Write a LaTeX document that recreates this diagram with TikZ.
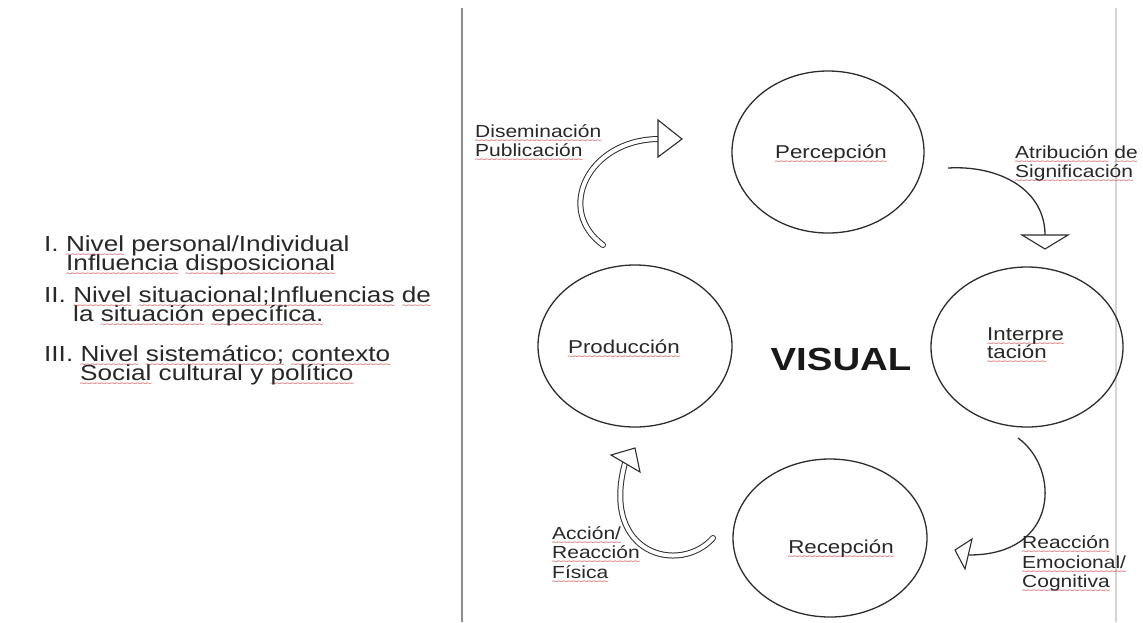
\documentclass[tikz,border=0pt]{standalone}
\usepackage{fontspec}
\setmainfont{Liberation Sans}[FakeStretch=1.2]
\newfontfamily\wavefont{DejaVu Sans}
\usetikzlibrary{shapes.geometric}
\definecolor{wred}{RGB}{215,110,110}
\definecolor{txt}{RGB}{40,40,40}
\definecolor{cline}{RGB}{45,45,45}
\definecolor{sepdark}{RGB}{140,140,140}
\definecolor{seplight}{RGB}{212,212,212}
\newcommand\sq[1]{\leavevmode\setbox0\hbox{#1}\rlap{\lower6.5pt\hbox to \wd0{\xleaders\hbox to 5pt{\hss\textcolor{wred}{\wavefont\fontsize{9}{9}\selectfont ∼}\hss}\hfill}}\box0\relax}
\begin{document}
\begin{tikzpicture}[x=1pt,y=-1pt,
  bubble/.style={shape=ellipse, draw=cline, line width=1.3pt, inner sep=0pt},
  biglab/.style={inner sep=0pt, text=txt, font=\fontsize{18.6}{22}\selectfont},
  smalllab/.style={inner sep=0pt, text=txt, anchor=base west, font=\fontsize{17.5}{19.5}\selectfont},
  listlab/.style={inner sep=0pt, text=txt, anchor=base west, font=\fontsize{21.8}{20}\selectfont},
  hollow/.style={draw=cline, line width=1pt, double=white, double distance=4pt, line cap=round},
  thinarrow/.style={draw=cline, line width=1.3pt},
  headtri/.style={draw=cline, fill=white, line width=1.1pt, line join=miter}
]
\useasboundingbox (0,0) rectangle (1143,622);
\fill[white] (0,0) rectangle (1143,622);

% separators
\coordinate (sepLtop) at (462,8);
\coordinate (sepLbot) at (462,622);
\coordinate (sepRtop) at (1116,8);
\coordinate (sepRbot) at (1116,622);
\draw[sepdark, line width=2.6pt] (sepLtop) -- (sepLbot);
\draw[seplight, line width=2pt] (sepRtop) -- (sepRbot);

% left list
\node[listlab] (l1a) at (44,251) {I. \sq{Nivel} personal/Individual};
\node[listlab] (l1b) at (66,270) {\sq{Influencia} \sq{disposicional}};
\node[listlab] (l2a) at (44,302) {II. \sq{Nivel} \sq{situacional;Influencias} \sq{de}};
\node[listlab] (l2b) at (73,321) {la \sq{situación} \sq{epecífica.}};
\node[listlab] (l3a) at (44,361) {III. \sq{Nivel} \sq{sistemático;} \sq{contexto}};
\node[listlab] (l3b) at (80,380) {\sq{Social} cultural y \sq{político}};

% circles
\node[bubble, minimum width=192pt, minimum height=162pt] (perc) at (828,152) {};
\node[bubble, minimum width=192pt, minimum height=160pt] (interp) at (1027,347) {};
\node[bubble, minimum width=194pt, minimum height=158pt] (recep) at (830,538) {};
\node[bubble, minimum width=194pt, minimum height=162pt] (prod) at (635,346) {};

% circle labels
\node[biglab, anchor=base] (percT) at (831,158) {\sq{Percepción}};
\node[biglab, anchor=base west] (interpT1) at (987,340) {\sq{Interpre}};
\node[biglab, anchor=base west] (interpT2) at (987,358) {\sq{tación}};
\node[biglab, anchor=base] (recepT) at (841,553) {\sq{Recepción}};
\node[biglab, anchor=base] (prodT) at (624,353) {\sq{Producción}};
\node[inner sep=0pt, anchor=base, text=black!90, font=\bfseries\fontsize{32}{32}\selectfont] (visual) at (841,370) {VISUAL};

% arrow 1: Diseminacion / Publicacion (hollow)
\coordinate (a1s) at (603,245);
\coordinate (a1e) at (658,139);
\draw[hollow] (a1s) .. controls (555,210) and (588,140) .. (a1e);
\draw[headtri] (658,120) -- (682,139) -- (658,157) -- cycle;
\node[smalllab] (dis1) at (475,137) {\sq{Diseminación}};
\node[smalllab] (dis2) at (475,156) {\sq{Publicación}};

% arrow 2: Atribucion de significacion
\coordinate (a2s) at (948,168);
\coordinate (a2e) at (1045,235);
\draw[thinarrow] (a2s) .. controls (1000,165) and (1045,190) .. (a2e);
\draw[headtri] (1022,235) -- (1068,235) -- (1045,249) -- cycle;
\node[smalllab] (atr1) at (1015,158) {\sq{Atribución} \sq{de}};
\node[smalllab] (atr2) at (1015,177) {\sq{Significación}};

% arrow 3: Reaccion emocional / cognitiva
\coordinate (a3s) at (1018,438);
\coordinate (a3e) at (969,555);
\draw[thinarrow] (a3s) .. controls (1060,468) and (1060,555) .. (a3e);
\draw[headtri] (972,539) -- (955,550) -- (965,569) -- cycle;
\node[smalllab] (rea1) at (1022,548) {\sq{Reacción}};
\node[smalllab] (rea2) at (1022,568) {\sq{Emocional/}};
\node[smalllab] (rea3) at (1022,587) {\sq{Cognitiva}};

% arrow 4: Accion / reaccion fisica (hollow)
\coordinate (a4s) at (713,538);
\coordinate (a4e) at (625,463);
\draw[hollow] (a4s) .. controls (680,575) and (600,555) .. (a4e);
\draw[headtri] (611,455) -- (635,448) -- (640,472) -- cycle;
\node[smalllab] (acc1) at (552,539) {\sq{Acción/}};
\node[smalllab] (acc2) at (552,558) {\sq{Reacción}};
\node[smalllab] (acc3) at (552,578) {\sq{Física}};
\end{tikzpicture}
\end{document}
